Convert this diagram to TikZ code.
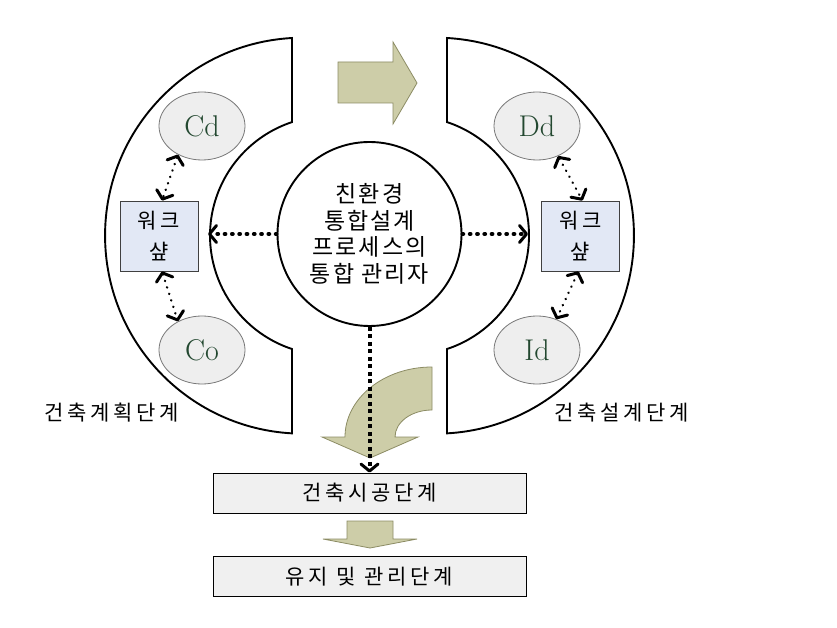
\documentclass[tikz,border=0pt]{standalone}
\usepackage{fontspec}
\newfontfamily\kr[LetterSpace=9]{Noto Sans CJK KR}
\newfontfamily\krw[LetterSpace=18]{Noto Sans CJK KR}
\usetikzlibrary{arrows.meta,shapes.geometric}
\definecolor{khakifill}{RGB}{205,205,168}
\definecolor{khakidraw}{RGB}{140,140,100}
\definecolor{ellfill}{RGB}{238,238,238}
\definecolor{ellline}{RGB}{120,120,120}
\definecolor{wsfill}{RGB}{226,232,245}
\definecolor{stagefill}{RGB}{240,240,240}
\definecolor{txtgreen}{RGB}{35,72,48}
\begin{document}
\begin{tikzpicture}[x=1pt,y=1pt,
  cshape/.style={draw=black,line width=1.9pt,fill=white},
  ell/.style={ellipse,draw=ellline,line width=0.8pt,fill=ellfill,minimum width=86pt,minimum height=68pt,inner sep=0pt,text=txtgreen,font=\fontsize{30}{34}\selectfont},
  wsbox/.style={draw=black!75,line width=0.9pt,fill=wsfill,minimum width=78pt,minimum height=70pt,inner sep=0pt,align=center,font=\krw\fontsize{21}{31}\selectfont},
  stagebox/.style={draw=black,line width=0.9pt,fill=stagefill,minimum width=313pt,minimum height=40pt,inner sep=0pt,font=\krw\fontsize{21}{24}\selectfont},
  khaki/.style={fill=khakifill,draw=khakidraw,line width=0.8pt},
  tipbig/.tip={Straight Barb[length=7pt,width=17pt,line width=3pt,round]},
  tipsmall/.tip={Straight Barb[length=7pt,width=17pt,line width=3pt,round]},
  bigdots/.style={line width=4pt,line cap=round,dash pattern=on 0.8pt off 6.5pt,-tipbig},
  smalldots/.style={line width=2.4pt,line cap=round,dash pattern=on 0.3pt off 6.5pt,tipsmall-tipsmall},
  vdash/.style={line width=4pt,dash pattern=on 4pt off 3.5pt,-tipbig},
  label/.style={font=\krw\fontsize{21}{24}\selectfont}
]
\useasboundingbox (0,0) rectangle (837,627);
\fill[white] (0,0) rectangle (837,627);

% C shapes
\path[cshape] (292,589) arc[start angle=93.2,end angle=266.8,radius=198]
  -- (292,278) arc[start angle=251.7,end angle=108.3,radius=119.5] -- cycle;
\path[cshape] (447,589) arc[start angle=86.8,end angle=-86.8,radius=198]
  -- (447,278) arc[start angle=-71.7,end angle=71.7,radius=119.5] -- cycle;

% top arrow
\path[khaki] (338,524) -- (338,565) -- (393,565) -- (393,585) -- (417,544)
  -- (393,503) -- (393,524) -- cycle;

% ellipses
\node[ell] (Cd) at (202,501) {Cd};
\node[ell] (Co) at (202,277) {Co};
\node[ell] (Dd) at (537,501) {Dd};
\node[ell] (Id) at (537,277) {Id};

% workshop boxes
\node[wsbox] (wsL) at (159,391) {워크\\샾};
\node[wsbox] (wsR) at (580.5,391) {워크\\샾};

% central circle
\node[circle,draw=black,line width=1.9pt,fill=white,minimum size=184pt,inner sep=0pt,
  align=center,font=\kr\fontsize{23}{26.5}\selectfont] (mgr) at (369.5,393)
  {친환경\\통합설계\\프로세스의\\통합 관리자};

% curved arrow
\path[khaki] (432,260) arc[start angle=90,end angle=180,x radius=87,y radius=70]
  -- (322,190) -- (370,169) -- (418,190) -- (395,190)
  arc[start angle=180,end angle=90,x radius=37,y radius=27] -- cycle;

% stage boxes
\node[stagebox] (s1) at (369.5,134) {건축시공단계};
\node[stagebox] (s2) at (369.5,50.5) {유지 및 관리단계};

% small arrow
\path[khaki] (347,106) -- (393,106) -- (393,88) -- (417,88) -- (370,79)
  -- (323,88) -- (347,88) -- cycle;

% labels
\node[label] (lblL) at (111.5,214) {건축계획단계};
\node[label] (lblR) at (621.5,214) {건축설계단계};

% connectors
\coordinate (la) at (208,393);
\coordinate (ra) at (528,393);
\draw[bigdots] (mgr.west) -- (la);
\draw[bigdots] (mgr.east) -- (ra);
\draw[vdash] (mgr.south) -- (s1.north);
\draw[smalldots] (Cd.230) -- ([xshift=3pt]wsL.north);
\draw[smalldots] ([xshift=3pt]wsL.south) -- (Co.130);
\draw[smalldots] (Dd.305) -- ([xshift=2pt]wsR.north);
\draw[smalldots] ([xshift=-2pt]wsR.south) -- (Id.58);
\end{tikzpicture}
\end{document}
